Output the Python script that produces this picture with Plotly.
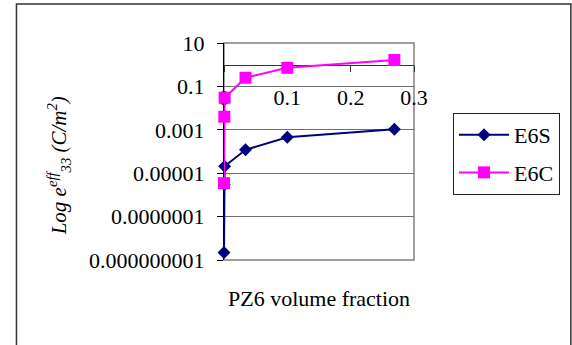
import plotly.graph_objects as go

# PZ6 volume fraction and effective e33 for the two composite models
fraction_e6s = [0.0, 0.0005, 0.001, 0.034, 0.1, 0.269]
e33_e6s = [2.2e-9, 2.9e-6, 2.1e-5, 1.2e-4, 4.5e-4, 1.05e-3]

fraction_e6c = [0.0, 0.0005, 0.001, 0.034, 0.1, 0.269]
e33_e6c = [3.5e-6, 4.0e-3, 3.0e-2, 0.25, 0.72, 1.65]

y_ticks = [1e-9, 1e-7, 1e-5, 1e-3, 1e-1, 10]
y_tick_text = ["0.000000001", "0.0000001", "0.00001", "0.001", "0.1", "10"]
x_ticks = [0.0, 0.1, 0.2, 0.3]
x_tick_text = ["0", "0.1", "0.2", "0.3"]

W, H = 572, 345
PL, PR, PT, PB = 224, 419, 43, 260  # plot area in pixels
FONT = "Liberation Serif"


def px_x(x):
    return (x - PL) / (PR - PL)


def px_y(y):
    return (PB - y) / (PB - PT)


fig = go.Figure()
fig.add_trace(go.Scatter(
    x=fraction_e6s, y=e33_e6s, name="E6S", mode="lines+markers",
    line=dict(color="#000080", width=2),
    marker=dict(symbol="diamond", size=10, color="#000080"),
    cliponaxis=False, legendgroup="a",
))
fig.add_trace(go.Scatter(
    x=fraction_e6c, y=e33_e6c, name="E6C", mode="lines+markers",
    line=dict(color="#FF00FF", width=2),
    marker=dict(symbol="square", size=12, color="#FF00FF"),
    cliponaxis=False, legendgroup="b",
))

fig.update_layout(
    width=W, height=H,
    margin=dict(l=PL, r=W - PR, t=PT, b=H - PB, pad=0),
    paper_bgcolor="white", plot_bgcolor="white",
    font=dict(family=FONT, size=21, color="black"),
    showlegend=True,
    legend=dict(
        x=px_x(459), y=px_y(113), xanchor="left", yanchor="top",
        bgcolor="white", bordercolor="#222", borderwidth=1,
        font=dict(family=FONT, size=22, color="black"),
        tracegroupgap=6, itemwidth=50, traceorder="grouped",
    ),
    xaxis=dict(
        range=[0, 0.3], tickvals=x_ticks, ticktext=x_tick_text,
        showgrid=False, zeroline=False,
        showline=True, linecolor="#333", linewidth=1,
        ticks="outside", ticklen=6, tickcolor="#333",
        anchor="free", position=0.9, ticklabelstandoff=7,
        tickfont=dict(family=FONT, size=22, color="black"),
        layer="below traces",
    ),
    yaxis=dict(
        type="log", range=[-9, 1], tickvals=y_ticks, ticktext=y_tick_text,
        showgrid=True, gridcolor="#6e6e6e", gridwidth=1, zeroline=False,
        showline=True, linecolor="black", linewidth=1,
        ticks="outside", ticklen=6, tickcolor="black",
        ticklabelstandoff=8, layer="below traces",
        tickfont=dict(family=FONT, size=22, color="black"),
    ),
    shapes=[
        # plot-area frame
        dict(type="rect", xref="paper", yref="paper", x0=0, y0=0, x1=1, y1=1,
             line=dict(color="#808080", width=1.5), layer="below"),
        # chart-area frame
        dict(type="rect", xref="paper", yref="paper",
             x0=px_x(11), y0=px_y(352), x1=px_x(580), y1=px_y(4),
             line=dict(color="#333", width=1.5), layer="below"),
    ],
    annotations=[
        dict(text="<i>Log e<sup>eff</sup><sub>33</sub> (C/m<sup>2</sup>)</i>",
             xref="paper", yref="paper", x=px_x(54), y=px_y(166),
             xanchor="center", yanchor="middle",
             textangle=-90, showarrow=False,
             font=dict(family=FONT, size=21, color="black")),
        dict(text="PZ6 volume fraction", xref="paper", yref="paper",
             x=0.5, y=px_y(298), xanchor="center", yanchor="middle",
             showarrow=False,
             font=dict(family=FONT, size=22, color="black")),
    ],
)

fig.write_html("out.html")
